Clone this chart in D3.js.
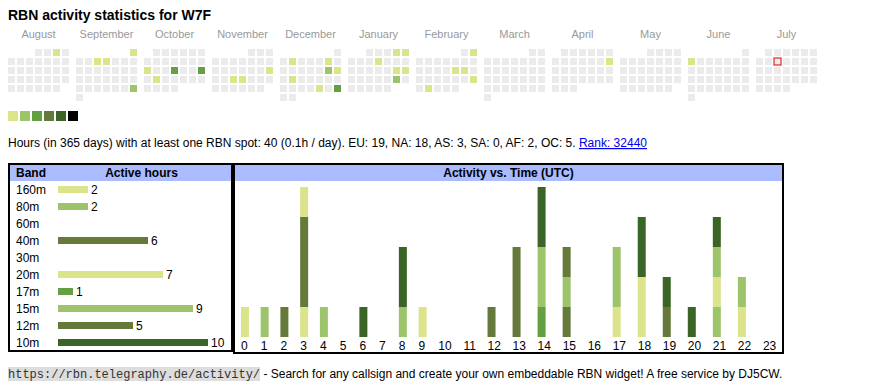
<!DOCTYPE html>
<html><head><meta charset="utf-8">
<script src="https://cdn.jsdelivr.net/npm/d3@7"></script>
<style>
html,body{margin:0;padding:0;background:#fff;}
svg{display:block;font-family:"Liberation Sans",Arial,sans-serif;}
</style></head><body>
<svg id="c" width="870" height="390"></svg>
<script>
// ---------- data ----------
const callsign = "W7F";
const monthLabels = ["August","September","October","November","December","January","February","March","April","May","June","July"];
const firstMonth = [2024, 7];
const todayDate = "2025-07-09";
const activeDates = ["2024-08-03","2024-09-01","2024-09-04","2024-09-05","2024-09-29","2024-10-14","2024-10-17","2024-10-20","2024-10-22","2024-11-17","2024-11-20","2024-11-21","2024-12-03","2024-12-07","2024-12-14","2024-12-15","2024-12-17","2024-12-27","2024-12-29","2025-01-04","2025-01-05","2025-01-09","2025-01-18","2025-01-19","2025-01-25","2025-02-02","2025-02-14","2025-02-15","2025-02-23","2025-02-25","2025-04-13","2025-06-02"];
const activeLevels = [1,1,1,1,2,1,3,3,1,1,1,1,1,1,2,1,1,1,3,1,1,1,1,1,2,1,1,1,1,1,1,1];
const levelColors = ["#dbe38b","#9dc36b","#64a043","#657a3a","#3b6526","#000000"];
const emptyColor = "#ebebeb";

const summaryText = "Hours (in 365 days) with at least one RBN spot: 40 (0.1h / day). EU: 19, NA: 18, AS: 3, SA: 0, AF: 2, OC: 5. ";
const rankText = "Rank: 32440";

const bands = ["160m","80m","60m","40m","30m","20m","17m","15m","12m","10m"];
const bandHours = [2,2,0,6,0,7,1,9,5,10];
const bandColors = ["#dbe38b","#9dc36b","#64a043","#657a3a","#3b6526","#dbe38b","#64a043","#9dc36b","#657a3a","#3b6526"];

const hourLabels = ["0","1","2","3","4","5","6","7","8","9","10","11","12","13","14","15","16","17","18","19","20","21","22","23"];
const h160 = [1,0,0,1,0,0,0,0,0,0,0,0,0,0,0,0,0,0,0,0,0,0,0,0];
const h80  = [0,1,0,0,0,0,0,0,0,0,0,0,0,0,0,0,0,0,0,0,0,1,0,0];
const h60  = [0,0,0,0,0,0,0,0,0,0,0,0,0,0,0,0,0,0,0,0,0,0,0,0];
const h40  = [0,0,1,3,0,0,0,0,0,0,0,0,1,0,0,1,0,0,0,0,0,0,0,0];
const h30  = [0,0,0,0,0,0,0,0,0,0,0,0,0,0,0,0,0,0,0,0,0,0,0,0];
const h20  = [0,0,0,1,0,0,0,0,0,1,0,0,0,0,0,0,0,1,2,0,0,1,1,0];
const h17  = [0,0,0,0,0,0,0,0,0,0,0,0,0,0,1,0,0,0,0,0,0,0,0,0];
const h15  = [0,0,0,0,1,0,0,0,1,0,0,0,0,0,2,1,0,2,0,0,0,1,1,0];
const h12  = [0,0,0,0,0,0,0,0,0,0,0,0,0,3,0,1,0,0,0,1,0,0,0,0];
const h10  = [0,0,0,0,0,0,1,0,2,0,0,0,0,0,2,0,0,0,2,1,1,1,0,0];

const footerUrl = "https://rbn.telegraphy.de/activity/";
const footerText = " - Search for any callsign and create your own embeddable RBN widget! A free service by DJ5CW.";

// ---------- drawing ----------
const svg = d3.select("#c");

svg.append("text").attr("x", 8).attr("y", 20)
  .attr("font-size", 14).attr("font-weight", "bold").attr("fill", "#000")
  .text(`RBN activity statistics for ${callsign}`);

// calendar
const fmt = d3.timeFormat("%Y-%m-%d");
const levelMap = new Map(activeDates.map((d, i) => [d, activeLevels[i]]));
const start = new Date(firstMonth[0], firstMonth[1], 1);
const months = d3.timeMonths(start, d3.timeMonth.offset(start, 12));
const xMonth = d3.scaleBand().domain(d3.range(12)).range([8, 817]).paddingInner(7 / 68);
const xCol = d3.scaleBand().domain(d3.range(7)).range([0, 61]).paddingInner(2 / 9);
const yRow = d3.scaleBand().domain(d3.range(6)).range([49, 101]).paddingInner(2 / 9);
const levelColor = d3.scaleOrdinal().domain(d3.range(1, 7)).range(levelColors);

months.forEach((m, i) => {
  const g = svg.append("g").attr("transform", `translate(${xMonth(i)},0)`);
  g.append("text").attr("x", xMonth.bandwidth() / 2).attr("y", 38)
    .attr("text-anchor", "middle").attr("font-size", 11).attr("fill", "#999")
    .text(monthLabels[i]);
  const startCol = (m.getDay() + 6) % 7;
  const days = d3.timeDays(m, d3.timeMonth.offset(m, 1));
  g.selectAll("rect.day").data(days).join("rect")
    .attr("class", "day")
    .attr("x", d => xCol((d.getDay() + 6) % 7))
    .attr("y", d => yRow(Math.floor((d.getDate() - 1 + startCol) / 7)))
    .attr("width", xCol.bandwidth()).attr("height", yRow.bandwidth())
    .attr("fill", d => levelMap.has(fmt(d)) ? levelColor(levelMap.get(fmt(d))) : emptyColor)
    .attr("stroke", d => fmt(d) === todayDate ? "#e00000" : "none")
    .attr("stroke-width", 1);
});

// legend
const xLeg = d3.scaleBand().domain(d3.range(6)).range([8, 78]).paddingInner(1 / 6);
svg.selectAll("rect.leg").data(levelColors).join("rect").attr("class", "leg")
  .attr("x", (d, i) => xLeg(i)).attr("y", 111)
  .attr("width", xLeg.bandwidth()).attr("height", 10).attr("fill", d => d);

// summary line
const sum = svg.append("text").attr("x", 8).attr("y", 147).attr("font-size", 12).attr("fill", "#000")
  .style("white-space", "pre");
sum.append("tspan").text(summaryText);
sum.append("tspan").attr("fill", "#0000ee").attr("text-decoration", "underline").text(rankText);

// ---------- left table ----------
const LT = {x0: 8, x1: 233, y0: 163, y1: 352};
svg.append("rect").attr("x", LT.x0 + 1).attr("y", LT.y0 + 1)
  .attr("width", LT.x1 - LT.x0 - 2).attr("height", LT.y1 - LT.y0 - 2)
  .attr("fill", "#fff").attr("stroke", "#000").attr("stroke-width", 2);
svg.append("rect").attr("x", LT.x0 + 2).attr("y", LT.y0 + 2)
  .attr("width", LT.x1 - LT.x0 - 4).attr("height", 16).attr("fill", "#aabbff");
svg.append("text").attr("x", 16).attr("y", 177).attr("font-size", 12).attr("font-weight", "bold").text("Band");
svg.append("text").attr("x", 141.5).attr("y", 177).attr("font-size", 12).attr("font-weight", "bold")
  .attr("text-anchor", "middle").text("Active hours");

const yBand = d3.scaleBand().domain(bands).range([181, 351]);
const xHours = d3.scaleLinear().domain([0, d3.max(bandHours)]).range([58, 208]);
const rows = svg.append("g").selectAll("g").data(bands).join("g")
  .attr("transform", b => `translate(0,${yBand(b) + yBand.bandwidth() / 2})`);
rows.append("text").attr("x", 16).attr("y", 4).attr("font-size", 12).text(b => b);
rows.filter(b => bandHours[bands.indexOf(b)] > 0).each(function (b) {
  const i = bands.indexOf(b);
  const r = d3.select(this);
  r.append("rect").attr("x", xHours(0)).attr("y", -3.5)
    .attr("width", xHours(bandHours[i]) - xHours(0)).attr("height", 7).attr("fill", bandColors[i]);
  r.append("text").attr("x", xHours(bandHours[i]) + 3).attr("y", 4).attr("font-size", 12).text(bandHours[i]);
});

// ---------- right table ----------
const RT = {x0: 233, x1: 784, y0: 163, y1: 354};
svg.append("rect").attr("x", RT.x0 + 1).attr("y", RT.y0 + 1)
  .attr("width", RT.x1 - RT.x0 - 2).attr("height", RT.y1 - RT.y0 - 2)
  .attr("fill", "#fff").attr("stroke", "#000").attr("stroke-width", 2);
svg.append("rect").attr("x", RT.x0 + 2).attr("y", RT.y0 + 2)
  .attr("width", RT.x1 - RT.x0 - 4).attr("height", 16).attr("fill", "#aabbff");
svg.append("text").attr("x", (RT.x0 + RT.x1) / 2).attr("y", 177).attr("font-size", 12).attr("font-weight", "bold")
  .attr("text-anchor", "middle").text("Activity vs. Time (UTC)");

// column widths like an auto-layout table
const barW = 8, pad = 6;
const probe = svg.append("text").attr("font-size", 12);
const natural = hourLabels.map(l => { probe.text(l); return Math.max(barW, probe.node().getComputedTextLength()) + 2 * pad; });
probe.remove();
const inner = [RT.x0 + 2, RT.x1 - 2];
const k = (inner[1] - inner[0]) / d3.sum(natural);
const lefts = natural.map((w, i) => inner[0] + k * d3.sum(natural.slice(0, i)));
const xHour = d3.scaleOrdinal().domain(hourLabels).range(lefts);
const padK = pad * k;

const bandSeries = [h160, h80, h60, h40, h30, h20, h17, h15, h12, h10];
const table = hourLabels.map((h, i) => {
  const o = {hour: h};
  bands.forEach((b, j) => o[b] = bandSeries[j][i]);
  return o;
});
const stacked = d3.stack().keys(bands)(table);
const yAct = d3.scaleLinear().domain([0, d3.max(table, d => d3.sum(bands, b => d[b]))]).range([337, 187]);
const colorByBand = d3.scaleOrdinal().domain(bands).range(bandColors);

svg.append("g").selectAll("g").data(stacked).join("g")
  .attr("fill", s => colorByBand(s.key))
  .selectAll("rect").data(s => s.filter(d => d[1] > d[0])).join("rect")
  .attr("x", d => xHour(d.data.hour) + padK)
  .attr("y", d => yAct(d[1]))
  .attr("width", barW)
  .attr("height", d => yAct(d[0]) - yAct(d[1]));

svg.append("g").selectAll("text").data(hourLabels).join("text")
  .attr("x", h => xHour(h) + padK).attr("y", 350).attr("font-size", 12).text(h => h);

// ---------- footer ----------
const footG = svg.append("g");
const urlBg = footG.append("rect").attr("x", 8).attr("y", 367).attr("height", 14).attr("fill", "#dddddd");
const fUrl = footG.append("text").attr("x", 8).attr("y", 378)
  .attr("font-family", "'Liberation Mono','DejaVu Sans Mono',monospace").attr("font-size", 12).attr("fill", "#333")
  .text(footerUrl);
const uw = fUrl.node().getComputedTextLength();
urlBg.attr("width", uw);
footG.append("text").attr("x", 8 + uw).attr("y", 378).attr("font-size", 12).attr("fill", "#000")
  .style("white-space", "pre").text(footerText);
</script>
</body></html>
